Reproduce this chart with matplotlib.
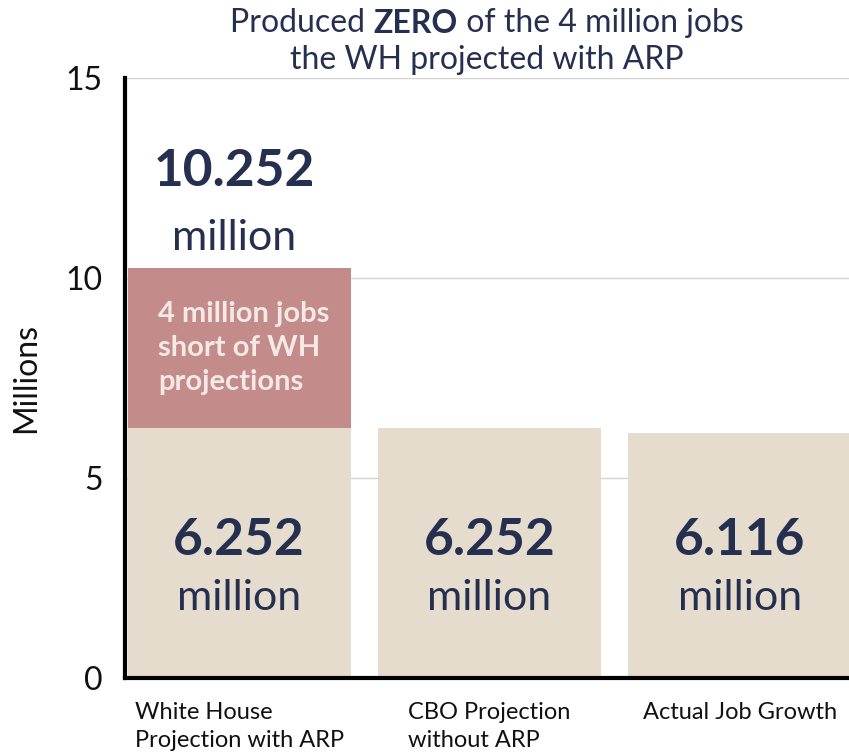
import numpy as np
import matplotlib.pyplot as plt

plt.rcParams['font.family'] = ['Lato', 'DejaVu Sans']

COLOR_BASE = '#e5dccd'
COLOR_GAP = '#c48b8b'
COLOR_TEXT = '#252f50'
COLOR_GAPTEXT = '#f5e9e6'

categories = ['White House\nProjection with ARP', 'CBO Projection\nwithout ARP', 'Actual Job Growth']
base_values = [6.252, 6.252, 6.116]
gap_values = [4.0, 0.0, 0.0]
top_label = '10.252'
base_labels = ['6.252', '6.252', '6.116']
gap_text = '4 million jobs\nshort of WH\nprojections'

fig = plt.figure(figsize=(8.49, 7.53), dpi=100)
ax = fig.add_axes([0.1472, 0.0996, 0.8528, 0.7968])

x = np.arange(len(categories))
ax.bar(x, base_values, width=0.89, color=COLOR_BASE, zorder=2)
ax.bar(x, gap_values, width=0.89, bottom=base_values, color=COLOR_GAP, zorder=2)

ax.set_xlim(-0.456, 2.436)
ax.set_ylim(0, 15)
ax.set_yticks([0, 5, 10, 15])
ax.tick_params(axis='y', length=0, labelsize=23, pad=16, labelcolor='#111111')
ax.yaxis.grid(True, color='#d4d4d4', linewidth=1.0, zorder=0)
ax.set_axisbelow(True)
ax.set_xticks(x)
ax.set_xticklabels(categories, fontsize=17, multialignment='left', color='#111111',
                   linespacing=1.45)
ax.tick_params(axis='x', length=0, pad=17)
ax.set_ylabel('Millions', fontsize=23, color='#111111', labelpad=18)

for s in ['top', 'right']:
    ax.spines[s].set_visible(False)
ax.spines['left'].set_linewidth(3)
ax.spines['bottom'].set_linewidth(3)
ax.spines['left'].set_zorder(5)
ax.spines['bottom'].set_zorder(5)

# value labels
for i, lab in enumerate(base_labels):
    ax.text(x[i], 3.45, lab, ha='center', va='center', fontsize=37,
            fontweight='bold', color=COLOR_TEXT, zorder=4)
    ax.text(x[i], 2.0, 'million', ha='center', va='center', fontsize=31,
            color=COLOR_TEXT, zorder=4)

total = base_values[0] + gap_values[0]
ax.text(x[0] - 0.02, total + 2.4, top_label, ha='center', va='center', fontsize=37,
        fontweight='bold', color=COLOR_TEXT)
ax.text(x[0] - 0.02, total + 0.75, 'million', ha='center', va='center', fontsize=31,
        color=COLOR_TEXT)

ax.text(x[0] - 0.325, base_values[0] + gap_values[0] / 2, gap_text, ha='left', va='center',
        fontsize=21, fontweight='bold', color=COLOR_GAPTEXT, linespacing=1.4, zorder=4)

# title with a bold word in the middle
t1 = fig.text(0, 0.969, 'Produced ', fontsize=23, color=COLOR_TEXT, va='center', ha='left')
t2 = fig.text(0, 0.969, 'ZERO', fontsize=23, fontweight='bold', color=COLOR_TEXT, va='center', ha='left')
t3 = fig.text(0, 0.969, ' of the 4 million jobs', fontsize=23, color=COLOR_TEXT, va='center', ha='left')
fig.canvas.draw()
r = fig.canvas.get_renderer()
w1 = t1.get_window_extent(r).width
w2 = t2.get_window_extent(r).width
w3 = t3.get_window_extent(r).width
W = fig.bbox.width
start = 487 - (w1 + w2 + w3) / 2
t1.set_x(start / W)
t2.set_x((start + w1) / W)
t3.set_x((start + w1 + w2) / W)
fig.text(487 / W, 0.92, 'the WH projected with ARP', fontsize=23, color=COLOR_TEXT,
         va='center', ha='center')

fig.savefig('out.png', dpi=100)
